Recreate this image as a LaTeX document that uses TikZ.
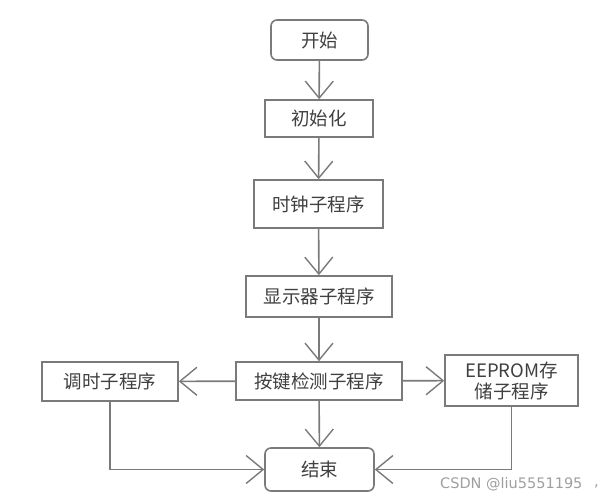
\documentclass[tikz,border=0pt]{standalone}
\usepackage{fontspec}
\newfontfamily\cjk{Noto Sans CJK SC}
\newfontfamily\wm{DejaVu Sans}
\usetikzlibrary{arrows.meta}
\definecolor{ln}{HTML}{7A7A7A}
\definecolor{tx}{HTML}{404040}
\tikzset{
  box/.style={draw=ln, line width=1.6pt, fill=white, text=tx, font=\cjk\fontsize{18.5}{21}\selectfont, inner sep=0pt, align=center},
  rbox/.style={box, rounded corners=6pt},
  conn/.style={draw=ln, line width=1.6pt, -{Straight Barb[length=17pt, width=28pt, line width=1.4pt]}}
}
\begin{document}
\begin{tikzpicture}[x=1pt,y=-1pt]
\useasboundingbox (0,0) rectangle (601,500);
\node[rbox, minimum width=97pt, minimum height=40pt] (start) at (319.5,40) {开始};
\node[box, minimum width=108pt, minimum height=37pt] (init) at (319,118.5) {初始化};
\node[box, minimum width=129pt, minimum height=48pt] (clock) at (318.5,204) {时钟子程序};
\node[box, minimum width=146pt, minimum height=41pt] (disp) at (319,296.5) {显示器子程序};
\node[box, minimum width=166pt, minimum height=38pt] (key) at (319,381) {按键检测子程序};
\node[box, minimum width=136pt, minimum height=39pt] (tune) at (110,381.5) {调时子程序};
\node[box, minimum width=133pt, minimum height=51pt] (eep) at (511.5,380.5) {EEPROM存\\储子程序};
\node[rbox, minimum width=109pt, minimum height=43pt] (end) at (319.5,469.5) {结束};
\draw[conn] (start) -- (init);
\draw[conn] (init) -- (clock);
\draw[conn] (clock) -- (disp);
\draw[conn] (disp) -- (key);
\draw[conn] (key) -- (tune);
\draw[conn] (key) -- (eep);
\draw[conn] (key) -- (end);
\draw[conn] (tune.south) |- (end.west);
\draw[conn] (eep.south) |- (end.east);
\node[text=gray!75, font=\wm\fontsize{14.5}{16}\selectfont, anchor=west, inner sep=0pt] (wmk) at (440,484) {CSDN @liu5551195};
\node[text=gray!75, font=\wm\fontsize{14.5}{16}\selectfont, anchor=west, inner sep=0pt] (cm) at (594,486) {,};
\end{tikzpicture}
\end{document}
